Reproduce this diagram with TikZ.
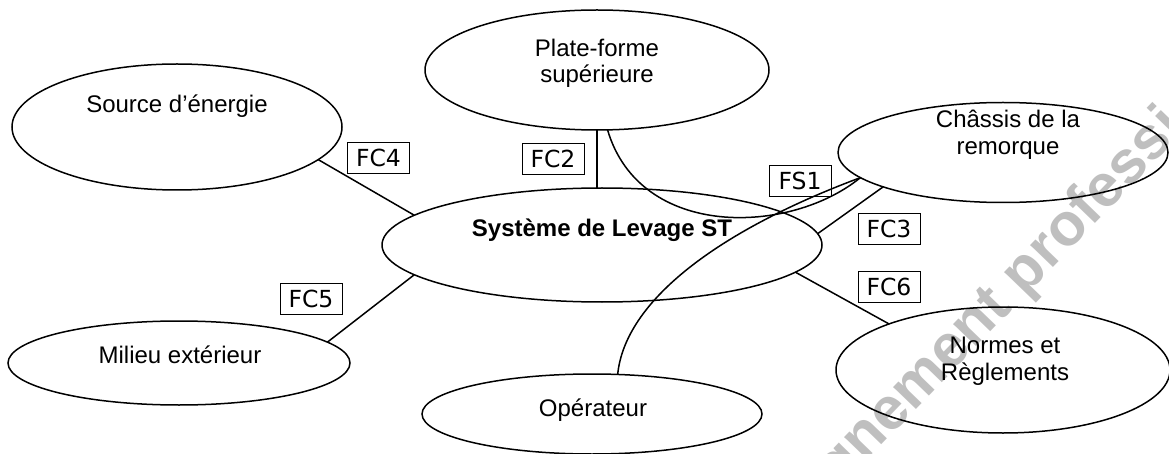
\documentclass[tikz,border=0pt]{standalone}
\usepackage{fontspec}
\setmainfont{Liberation Sans}
\newfontfamily\boxfont{DejaVu Sans}
\usetikzlibrary{shapes.geometric}
\tikzset{
  ell/.style={draw, shape=ellipse, inner sep=0pt, outer sep=0pt, line width=1.5pt},
  lbl/.style={font=\fontsize{24}{28}\selectfont, anchor=base, inner sep=0pt},
  fbox/.style={draw, line width=0.9pt, minimum width=62pt, minimum height=31pt, inner sep=0pt, font=\boxfont\fontsize{23.5}{26}\selectfont},
  link/.style={line width=1.5pt},
  wmark/.style={rotate=46, anchor=base, text=black!25, inner sep=0pt, font=\fontsize{60}{64}\selectfont\bfseries}
}
\begin{document}
\begin{tikzpicture}[x=1pt, y=-1pt]
\useasboundingbox (0,0) rectangle (1169,454);
\clip (0,0) rectangle (1169,454);
\fill[white] (0,0) rectangle (1169,454);
% watermark
\node[wmark] (wm) at (1013,309) {Enseignement professionnel};
% ellipses
\node[ell, minimum width=330pt, minimum height=126pt] (src) at (177,127) {};
\node[ell, minimum width=344pt, minimum height=120pt] (pf) at (597,70) {};
\node[ell, minimum width=440pt, minimum height=114pt] (sys) at (602,245) {};
\node[ell, minimum width=330pt, minimum height=100pt] (ch) at (1003,152.5) {};
\node[ell, minimum width=334pt, minimum height=126pt] (nr) at (1003,370) {};
\node[ell, minimum width=342pt, minimum height=84pt] (mi) at (179,363) {};
\node[ell, minimum width=340pt, minimum height=80pt] (op) at (592,414) {};
% texts
\node[lbl] (srct) at (177,113) {Source d’énergie};
\node[lbl] (pft1) at (597,57) {Plate-forme};
\node[lbl] (pft2) at (597,83) {supérieure};
\node[lbl, font=\fontsize{24}{28}\selectfont\bfseries] (syst) at (602,237) {Système de Levage ST};
\node[lbl] (cht1) at (1008,128) {Châssis de la};
\node[lbl] (cht2) at (1008,155) {remorque};
\node[lbl] (nrt1) at (1005,353) {Normes et};
\node[lbl] (nrt2) at (1005,380) {Règlements};
\node[lbl] (mit) at (180,363) {Milieu extérieur};
\node[lbl] (opt) at (593,416) {Opérateur};
% connectors
\draw[link] (src.-13.8) -- (sys.171.7);
\draw[link] (sys.-171.6) -- (mi.8.8);
\draw[link] (pf.south) -- (pf.south |- sys.north);
\draw[link] (sys.3.5) -- (ch.196.5);
\draw[link] (sys.-8.7) -- (nr.158.6);
\draw[link] (pf.-80) .. controls (640,240) and (790,235) .. (ch.190);
\draw[link] (op.57.7) .. controls (625,300) and (720,230) .. (ch.190);
% labels
\node[fbox] (fc4) at (378.5,158) {FC4};
\node[fbox] (fc2) at (553,158.5) {FC2};
\node[fbox] (fc5) at (311,299) {FC5};
\node[fbox] (fs1) at (800,180.5) {FS1};
\node[fbox] (fc3) at (889,228.5) {FC3};
\node[fbox] (fc6) at (889,287) {FC6};
\end{tikzpicture}
\end{document}
